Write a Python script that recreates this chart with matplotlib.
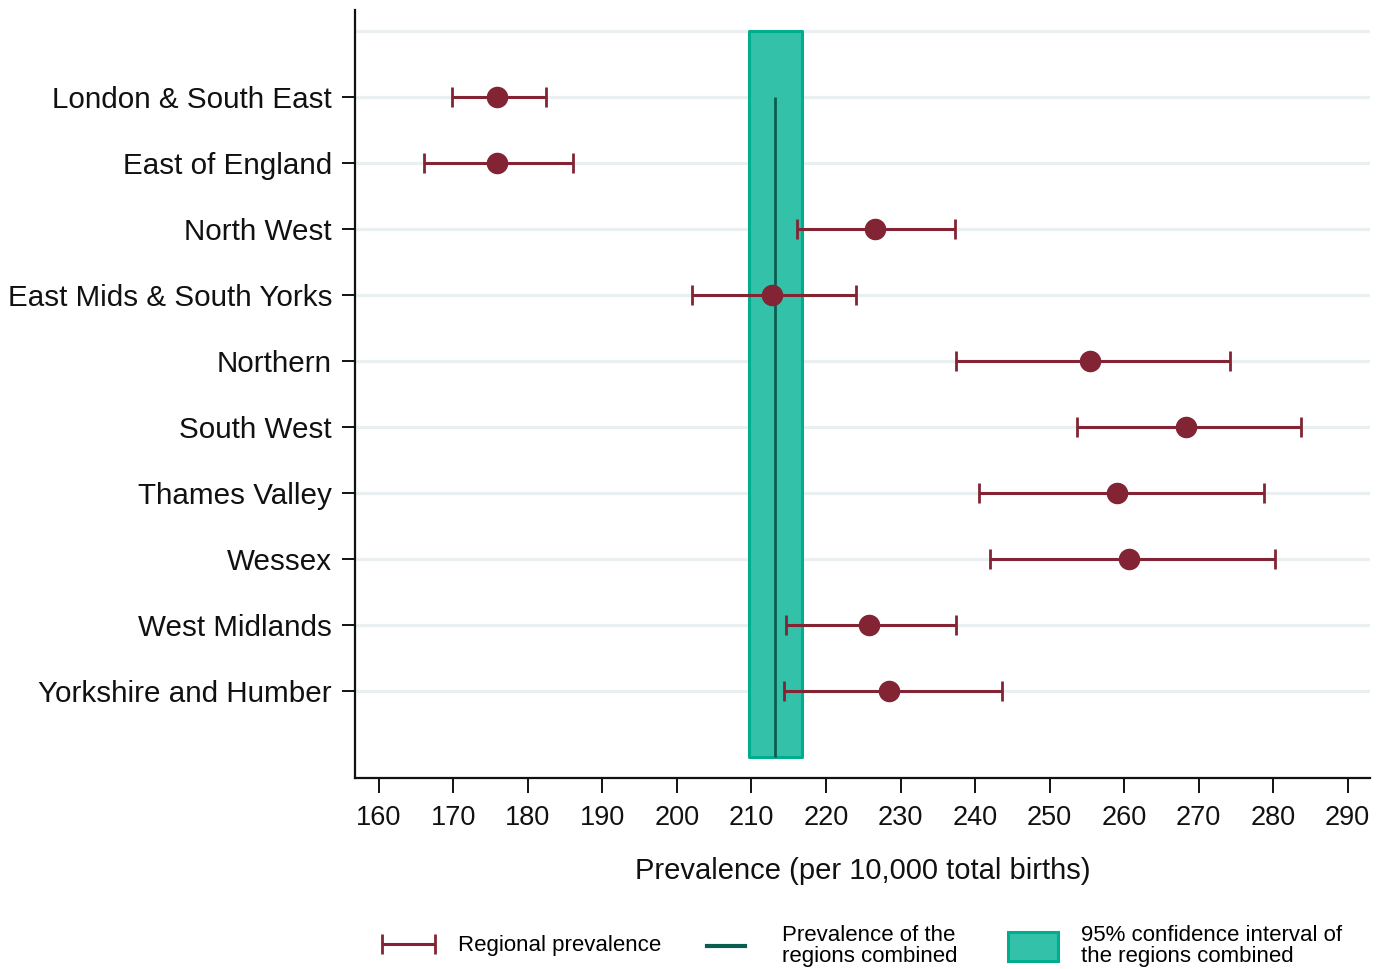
import matplotlib
matplotlib.use("Agg")
import matplotlib.pyplot as plt
from matplotlib.lines import Line2D
from matplotlib.patches import Patch
from matplotlib.legend_handler import HandlerErrorbar

plt.rcParams["font.family"] = ["Liberation Sans", "DejaVu Sans"]

# Regional prevalence per 10,000 total births with 95% confidence limits
regions = [
    "London & South East",
    "East of England",
    "North West",
    "East Mids & South Yorks",
    "Northern",
    "South West",
    "Thames Valley",
    "Wessex",
    "West Midlands",
    "Yorkshire and Humber",
]
prevalence = [175.9, 175.8, 226.6, 212.8, 255.4, 268.3, 259.1, 260.6, 225.8, 228.5]
ci_lower = [169.8, 166.0, 216.1, 202.0, 237.5, 253.7, 240.5, 242.0, 214.6, 214.3]
ci_upper = [182.4, 186.0, 237.3, 224.0, 274.2, 283.7, 278.8, 280.3, 237.4, 243.6]

# All regions combined
combined = 213.2
combined_lower = 209.7
combined_upper = 216.8

x_ticks = list(range(160, 300, 10))

MAROON = "#822433"
TEAL_FILL = "#33C1A9"
TEAL_EDGE = "#00AE8E"
TEAL_DARK = "#0B5E4F"
GRID = "#EAF0F1"

fig = plt.figure(figsize=(13.89, 9.69), dpi=100)
ax = fig.add_axes([0.2556, 0.1971, 0.9863 - 0.2556, 0.9897 - 0.1971])

ypos = list(range(1, len(regions) + 1))

# Horizontal guide lines (one above the first row too)
for g in range(0, len(regions) + 1):
    ax.axhline(g, color=GRID, lw=2.3, zorder=0)

# Confidence band and point estimate of the combined regions
ax.fill_betweenx([0, len(regions) + 1], combined_lower, combined_upper,
                 facecolor=TEAL_FILL, edgecolor=TEAL_EDGE, lw=2.2, zorder=1)
ax.vlines(combined, 1, len(regions) + 1, color=TEAL_DARK, lw=2.0, zorder=2)

# Regional estimates with error bars
xerr = [[p - lo for p, lo in zip(prevalence, ci_lower)],
        [hi - p for p, hi in zip(prevalence, ci_upper)]]
eb = ax.errorbar(prevalence, ypos, xerr=xerr, fmt="none", ecolor=MAROON,
                 elinewidth=2.2, capsize=7.5, capthick=2.0, zorder=3)
ax.plot(prevalence, ypos, "o", color=MAROON, markersize=14.5, zorder=4)

ax.set_xlim(156.8, 293.0)
ax.set_ylim(len(regions) + 1.32, -0.32)
ax.set_xticks(x_ticks)
ax.set_xticklabels([str(t) for t in x_ticks])
ax.set_yticks(ypos)
ax.set_yticklabels(regions)

for s in ("top", "right"):
    ax.spines[s].set_visible(False)
for s in ("left", "bottom"):
    ax.spines[s].set_linewidth(1.6)
    ax.spines[s].set_color("#111111")

ax.tick_params(axis="x", length=10.5, width=1.4, pad=9, labelsize=19.5, colors="#111111")
ax.tick_params(axis="y", length=9.5, width=1.4, pad=7, labelsize=21.3, colors="#111111")
ax.set_xlabel("Prevalence (per 10,000 total births)", fontsize=21, labelpad=19, color="#111111")

# Legend entries placed along the bottom
LEG_FS = 16
leg1 = fig.legend([eb], ["Regional prevalence"], loc="center left",
                  bbox_to_anchor=(382 / 1389, 1 - 946 / 969), frameon=False,
                  fontsize=LEG_FS, handlelength=2.4, handletextpad=1.0,
                  borderpad=0, borderaxespad=0, numpoints=1,
                  handler_map={type(eb): HandlerErrorbar(xerr_size=1.2)})
leg2 = fig.legend([Line2D([0], [0], color=TEAL_DARK, lw=3)],
                  ["Prevalence of the\nregions combined"], loc="center left",
                  bbox_to_anchor=(707 / 1389, 1 - 946 / 969), frameon=False,
                  fontsize=LEG_FS, handlelength=1.72, handletextpad=1.65,
                  borderpad=0, borderaxespad=0)
leg3 = fig.legend([Patch(facecolor=TEAL_FILL, edgecolor=TEAL_EDGE, lw=2.2)],
                  ["95% confidence interval of\nthe regions combined"], loc="center left",
                  bbox_to_anchor=(1008 / 1389, 1 - 946 / 969), frameon=False,
                  fontsize=LEG_FS, handlelength=2.26, handleheight=1.62,
                  handletextpad=1.04, borderpad=0, borderaxespad=0)
for lg in (leg2, leg3):
    for t in lg.get_texts():
        t.set_linespacing(0.95)

fig.savefig("out.png", dpi=100)
